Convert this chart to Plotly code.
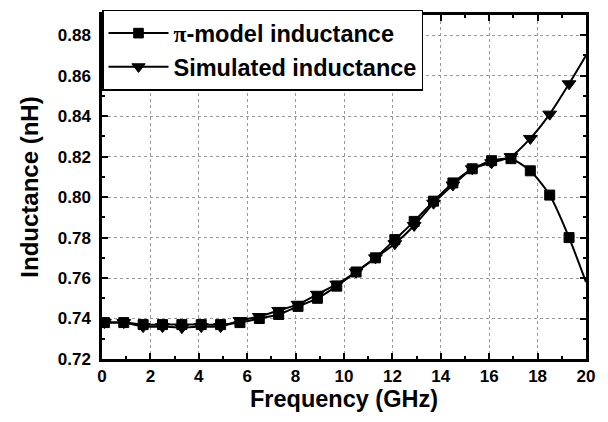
import plotly.graph_objects as go

freq = [0.1, 0.9, 1.7, 2.5, 3.3, 4.1, 4.9, 5.7, 6.5, 7.3, 8.1, 8.9, 9.7, 10.5, 11.3,
        12.1, 12.9, 13.7, 14.5, 15.3, 16.1, 16.9, 17.7, 18.5, 19.3, 20.0]
pi_model = [0.738, 0.738, 0.737, 0.737, 0.737, 0.737, 0.737, 0.738, 0.740, 0.742, 0.746,
            0.750, 0.756, 0.763, 0.770, 0.779, 0.788, 0.798, 0.807, 0.814, 0.818, 0.819,
            0.813, 0.801, 0.780, 0.758]
simulated = [0.738, 0.738, 0.736, 0.736, 0.7355, 0.736, 0.736, 0.739, 0.741, 0.744, 0.747,
             0.752, 0.757, 0.763, 0.770, 0.777, 0.786, 0.797, 0.806, 0.814, 0.817, 0.820,
             0.829, 0.841, 0.856, 0.870]
x_ticks = [0, 2, 4, 6, 8, 10, 12, 14, 16, 18, 20]
y_ticks = [0.72, 0.74, 0.76, 0.78, 0.80, 0.82, 0.84, 0.86, 0.88]

n = len(freq)
sq_sizes = [10] * (n - 1) + [0]
tri_sizes = [12] * (n - 1) + [0]

fig = go.Figure()
fig.add_trace(go.Scatter(
    x=freq, y=pi_model, mode="lines+markers",
    name="<span style='font-family:Liberation Serif'>π</span>-model inductance",
    line=dict(color="black", width=2, shape="spline", smoothing=0.6),
    marker=dict(symbol="square", size=sq_sizes, color="black",
                line=dict(color="black", width=1), opacity=1),
))
fig.add_trace(go.Scatter(
    x=freq, y=simulated, mode="lines+markers",
    name="Simulated inductance",
    line=dict(color="black", width=2, shape="spline", smoothing=0.6),
    marker=dict(symbol="triangle-down", size=tri_sizes, color="black",
                line=dict(color="black", width=1), opacity=1),
))

axis_common = dict(
    showline=True, linecolor="black", linewidth=2.5, mirror="allticks",
    ticks="inside", ticklen=6, tickwidth=2, tickcolor="black",
    showgrid=True, gridcolor="#9a9a9a", griddash="dot", gridwidth=1,
    zeroline=False,
    tickfont=dict(family="Liberation Sans", size=17, color="black", weight="bold"),
)

fig.update_xaxes(
    range=[0, 20], tickvals=x_ticks, ticktext=[str(v) for v in x_ticks],
    minor=dict(ticks="inside", ticklen=3, tickwidth=2, tickcolor="black", dtick=1, tick0=0, showgrid=False),
    title=dict(text="Frequency (GHz)", standoff=6,
               font=dict(family="Liberation Sans", size=23.5, color="black", weight="bold")),
    **axis_common,
)
fig.update_yaxes(
    range=[0.72, 0.89], tickvals=y_ticks, ticktext=[f"{v:.2f}" for v in y_ticks],
    minor=dict(ticks="inside", ticklen=3, tickwidth=2, tickcolor="black", dtick=0.01, tick0=0.72, showgrid=False),
    ticklabelstandoff=5,
    title=dict(text="Inductance (nH)", standoff=13,
               font=dict(family="Liberation Sans", size=24, color="black", weight="bold")),
    **axis_common,
)

fig.update_layout(
    width=608, height=422,
    margin=dict(l=102, r=22, t=10, b=63),
    plot_bgcolor="white", paper_bgcolor="white",
    legend=dict(
        x=0, y=1.015, xanchor="left", yanchor="top",
        bgcolor="white", bordercolor="black", borderwidth=1.5,
        font=dict(family="Liberation Sans", size=23.5, color="black", weight="bold"),
        itemwidth=60, tracegroupgap=0,
    ),
)

fig.write_html("out.html")
